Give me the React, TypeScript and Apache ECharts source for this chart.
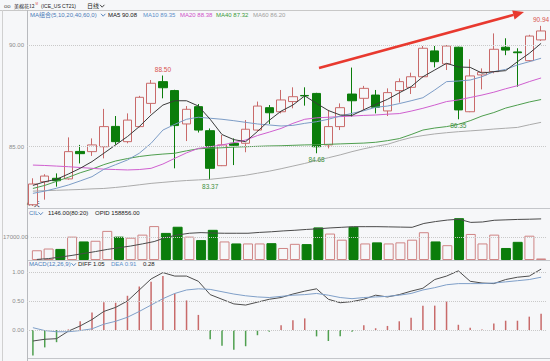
import React, { useEffect, useRef } from 'react';
import * as echarts from 'echarts';

const categories = ['D1','D2','D3','D4','D5','D6','D7','D8','D9','D10','D11','D12','D13','D14','D15','D16','D17','D18','D19','D20','D21','D22','D23','D24','D25','D26','D27','D28','D29','D30','D31','D32','D33','D34','D35','D36','D37','D38','D39','D40','D41','D42','D43','D44'];

const opens = [82.15,83.28,83.45,83.42,84.77,84.76,85.00,86.00,85.25,85.99,87.13,88.20,87.76,86.12,86.97,85.79,84.07,85.17,85.17,85.82,86.92,86.72,87.22,87.52,87.62,85.09,85.99,87.59,87.38,87.54,86.76,87.76,87.92,88.44,89.71,89.07,89.89,86.72,88.53,88.69,89.89,89.66,89.23,90.25];
const closes = [83.17,83.56,83.33,84.76,84.66,85.09,85.99,85.25,86.31,87.43,88.12,87.90,86.04,86.84,85.82,83.94,85.09,85.07,85.86,87.00,86.67,87.30,87.46,87.50,85.00,85.99,86.92,87.26,87.87,86.94,87.66,88.20,88.44,89.84,89.18,89.95,86.81,88.48,88.66,89.79,89.75,89.62,90.44,90.69];
const lows = [82.10,82.40,83.04,83.38,84.18,84.55,84.43,85.10,85.17,85.95,86.64,87.38,83.94,85.28,85.70,83.37,84.05,84.10,84.73,85.75,86.12,86.64,86.89,87.02,84.68,84.92,85.82,86.48,86.81,86.64,86.51,87.17,87.59,88.40,88.90,88.77,86.35,86.70,87.82,88.61,89.50,87.95,89.18,90.20];
const highs = [83.45,83.65,83.69,85.46,85.09,85.41,86.86,86.51,86.64,87.50,88.28,88.50,87.80,87.00,87.10,85.90,85.58,85.41,86.31,87.22,87.05,87.79,87.92,87.92,87.65,86.81,87.13,88.89,87.99,87.79,87.87,88.36,88.64,89.95,89.95,90.00,89.92,89.30,88.85,90.57,90.33,89.84,90.50,90.94];

const ma5 = [83.10,83.28,83.40,83.66,83.94,84.27,84.68,85.09,85.50,85.99,86.56,87.05,87.26,87.26,87.00,86.35,85.60,85.35,85.25,85.75,86.30,86.75,87.05,87.50,87.13,86.78,86.56,86.54,86.82,87.08,87.33,87.65,87.95,88.44,88.77,89.10,88.92,88.90,88.62,88.69,88.74,89.18,89.59,90.08];
const ma10 = [82.71,82.82,82.96,83.12,83.32,83.53,83.89,84.12,84.35,84.68,85.17,85.82,86.10,86.35,86.45,86.40,86.35,86.28,86.20,86.12,86.07,86.02,86.05,86.15,86.23,86.35,86.51,86.64,86.77,86.94,87.00,87.12,87.26,87.41,87.79,88.20,88.23,88.28,88.44,88.69,88.80,89.02,89.18,89.35];
const ma20 = [84.10,84.08,84.05,84.02,83.98,83.94,83.90,83.88,83.86,83.88,83.94,84.15,84.43,84.70,84.92,85.00,85.09,85.20,85.33,85.55,85.72,85.90,86.15,86.35,86.42,86.45,86.48,86.51,86.54,86.56,86.60,86.63,86.75,86.89,87.05,87.22,87.30,87.42,87.54,87.68,87.85,88.00,88.20,88.38];
const ma40 = [82.95,83.10,83.30,83.50,83.72,83.90,84.12,84.30,84.42,84.52,84.59,84.64,84.68,84.80,84.90,84.93,84.95,84.98,85.00,85.02,85.04,85.05,85.07,85.09,85.10,85.12,85.14,85.16,85.18,85.22,85.30,85.40,85.60,85.82,85.92,85.99,86.10,86.28,86.51,86.68,86.90,87.05,87.20,87.32];
const ma60 = [82.82,82.84,82.86,82.88,82.90,82.93,82.95,83.00,83.06,83.13,83.20,83.25,83.30,83.34,83.37,83.40,83.46,83.53,83.60,83.70,83.80,83.92,84.05,84.18,84.32,84.46,84.60,84.76,84.90,85.02,85.12,85.30,85.45,85.55,85.63,85.69,85.74,85.78,85.82,85.87,85.91,85.95,86.08,86.20];

const volumes = [7300,8600,8300,17500,13900,14400,21800,17500,16700,19000,25400,20300,24900,17500,14900,22600,13900,12400,12400,12400,12600,9000,12100,11900,24400,19800,15200,24900,12400,13200,12400,13200,15200,20800,13900,11100,31300,19500,12400,19000,9000,13600,18200,1146];
const opid = [139800,140200,140900,141700,142600,143500,144500,145300,146100,147100,148200,150100,151300,152100,152400,152200,152100,152100,152100,152500,152800,153200,153500,153900,154200,154600,154900,155200,155200,155200,155100,155000,154900,156700,157600,158300,158700,157200,157400,158200,158400,158600,158700,158856];

const macdHist = [-0.44,-0.30,-0.21,0.01,0.15,0.30,0.48,0.47,0.59,0.75,0.83,0.93,0.63,0.51,0.26,-0.16,-0.27,-0.34,-0.28,-0.09,-0.03,0.08,0.17,0.20,-0.11,-0.19,-0.11,-0.03,0.08,0.03,0.07,0.15,0.21,0.42,0.42,0.49,0.09,0.04,0.01,0.11,0.16,0.16,0.23,0.28];
const diff = [-0.19,-0.16,-0.15,-0.02,0.07,0.18,0.32,0.39,0.50,0.69,0.88,0.99,0.93,0.93,0.84,0.61,0.53,0.45,0.43,0.48,0.53,0.56,0.62,0.67,0.71,0.53,0.47,0.49,0.53,0.60,0.57,0.61,0.67,0.72,0.87,0.93,1.02,0.84,0.81,0.80,0.87,0.91,0.93,1.05];
const dea = [0.04,-0.01,-0.03,-0.03,-0.01,0.02,0.10,0.15,0.22,0.32,0.43,0.54,0.63,0.69,0.71,0.70,0.66,0.62,0.59,0.57,0.56,0.58,0.60,0.61,0.63,0.60,0.56,0.54,0.56,0.57,0.58,0.60,0.63,0.69,0.73,0.78,0.80,0.80,0.80,0.81,0.83,0.85,0.87,0.91];

const priceTicks = [85, 90];
const volumeTicks = [17000];
const macdTicks = [0, 0.5, 1];
const highMarks = [11, 43];
const lowMarks = [15, 24, 36];

const BG = '#f6f7f9';
const UP = '#c96a6a';
const DOWN = '#0b7d0b';
const FONT = '"Liberation Sans", "Noto Sans CJK SC", sans-serif';
const CJK = '"Noto Sans CJK SC", "Liberation Sans", sans-serif';

function txt(x: number, y: number, text: string, fill: string, size = 6, family = FONT, weight = 'normal') {
  return { type: 'text', x, y, silent: true, style: { text, fill, font: `${weight} ${size}px ${family}`, verticalAlign: 'middle', align: 'left' } };
}
function chevron(x: number, y: number, color: string) {
  return { type: 'polyline', silent: true, shape: { points: [[x, y - 1.2], [x + 2.2, y + 1.2], [x + 4.4, y - 1.2]] }, style: { stroke: color, lineWidth: 0.9, fill: 'none' } };
}
function hline(y: number, x1: number, x2: number, color = '#c4c6ca') {
  return { type: 'line', silent: true, shape: { x1, y1: y, x2, y2: y }, style: { stroke: color, lineWidth: 1 } };
}

const dotted = { type: 'dotted', color: '#c9c9c9', width: 1 };

export default function App() {
  const ref = useRef<HTMLDivElement>(null);
  useEffect(() => {
    if (!ref.current) return;
    const chart = echarts.init(ref.current, undefined, { renderer: 'svg' });
    const candleData = categories.map((_, i) => [opens[i], closes[i], lows[i], highs[i]]);
    const volData = volumes.map((v, i) => {
      const up = closes[i] >= opens[i];
      return { value: v, itemStyle: up ? { color: BG, borderColor: '#cf8585', borderWidth: 1 } : { color: DOWN, borderColor: DOWN, borderWidth: 1 } };
    });
    const histData = macdHist.map((v) => ({ value: v, itemStyle: { color: v >= 0 ? '#c86a6a' : '#4f9f4f' } }));
    const xAx = (g: number) => ({ type: 'category', gridIndex: g, data: categories, boundaryGap: true, axisLine: { show: false }, axisTick: { show: false }, axisLabel: { show: false }, splitLine: { show: false } });
    const lbl = (vals: number[]) => ({ customValues: vals, formatter: (v: number) => Number(v).toFixed(2), fontSize: 6, color: '#8c8c8c', margin: 3, fontFamily: FONT });
    const yBase = { axisLine: { show: false }, axisTick: { show: false }, splitLine: { show: false } };
    const maLine = (name: string, data: number[], color: string) => ({ name, type: 'line', xAxisIndex: 0, yAxisIndex: 0, data, symbol: 'none', smooth: false, lineStyle: { color, width: 1 }, silent: true, z: 3 });

    const markPts: any[] = [];
    highMarks.forEach((i) => markPts.push({ coord: [categories[i], highs[i]], value: highs[i], label: { position: 'top', distance: 3, color: '#d9534f' } }));
    lowMarks.forEach((i) => markPts.push({ coord: [categories[i], lows[i]], value: lows[i], label: { position: 'bottom', distance: 3, color: '#3f8f3f' } }));

    const option: any = {
      animation: false,
      backgroundColor: BG,
      grid: [
        { left: 27, right: 3, top: 10, height: 198 },
        { left: 27, right: 3, top: 208, height: 52 },
        { left: 27, right: 3, top: 260, height: 98.7 },
      ],
      xAxis: [xAx(0), xAx(1), xAx(2)],
      yAxis: [
        { type: 'value', gridIndex: 0, min: 81.99, max: 91.72, ...yBase, axisLabel: lbl(priceTicks) },
        { type: 'value', gridIndex: 1, min: 0, max: 38940, ...yBase, axisLabel: lbl(volumeTicks) },
        { type: 'value', gridIndex: 1, min: 139530, max: 163970, show: false },
        { type: 'value', gridIndex: 2, min: -0.495, max: 1.207, ...yBase, axisLabel: lbl(macdTicks) },
      ],
      series: [
        {
          type: 'candlestick', xAxisIndex: 0, yAxisIndex: 0, data: candleData, barWidth: 9,
          itemStyle: { color: BG, color0: DOWN, borderColor: UP, borderColor0: DOWN, borderWidth: 1 },
          markLine: { silent: true, symbol: 'none', label: { show: false }, lineStyle: dotted, data: priceTicks.map((v) => ({ yAxis: v })) },
          markPoint: { symbol: 'circle', symbolSize: 0, silent: true, label: { show: true, fontSize: 6.5, fontFamily: FONT, formatter: (p: any) => Number(p.value).toFixed(2) }, data: markPts },
          z: 2,
        },
        maLine('MA60', ma60, '#ababab'),
        maLine('MA40', ma40, '#4e9e4e'),
        maLine('MA20', ma20, '#cf5fcf'),
        maLine('MA10', ma10, '#7c9cc6'),
        maLine('MA5', ma5, '#3a3a3a'),
        {
          type: 'bar', xAxisIndex: 1, yAxisIndex: 1, data: volData, barWidth: 10, silent: true,
          markLine: { silent: true, symbol: 'none', label: { show: false }, lineStyle: dotted, data: volumeTicks.map((v) => ({ yAxis: v })) },
        },
        { type: 'line', xAxisIndex: 1, yAxisIndex: 2, data: opid, symbol: 'none', lineStyle: { color: '#4a4a4a', width: 1 }, silent: true, z: 4 },
        {
          type: 'bar', xAxisIndex: 2, yAxisIndex: 3, data: histData, barWidth: 1.5, silent: true,
          markLine: { silent: true, symbol: 'none', label: { show: false }, lineStyle: dotted, data: macdTicks.map((v) => ({ yAxis: v })) },
        },
        { type: 'line', xAxisIndex: 2, yAxisIndex: 3, data: diff, symbol: 'none', lineStyle: { color: '#4d4d4d', width: 1 }, silent: true, z: 4 },
        { type: 'line', xAxisIndex: 2, yAxisIndex: 3, data: dea, symbol: 'none', lineStyle: { color: '#7f9fc8', width: 1 }, silent: true, z: 4 },
      ],
      graphic: [
        hline(10.5, 0, 550, '#c8c8c8'),
        hline(208.5, 27, 550),
        hline(260.5, 27, 550),
        hline(358.5, 27, 550),
        { type: 'line', silent: true, shape: { x1: 27.5, y1: 10, x2: 27.5, y2: 361 }, style: { stroke: '#b8babe', lineWidth: 1 } },
        { type: 'line', silent: true, shape: { x1: 2.5, y1: 10, x2: 2.5, y2: 361 }, style: { stroke: '#d0d0d0', lineWidth: 1 } },
        txt(4, 5.5, 'oo', '#555', 6),
        txt(14, 5.5, '美棉花12', '#222', 5, CJK),
        txt(35.5, 3.2, 'M', '#d9534f', 3),
        txt(41, 5.5, '(ICE_US CT21)', '#222', 5),
        txt(87, 5.5, '日线', '#222', 6, CJK),
        chevron(100, 6, '#333'),
        txt(30, 14.7, 'MA组合(5,10,20,40,60,0)', '#4a7ab8', 6, FONT),
        chevron(101, 15, '#4a7ab8'),
        txt(108, 14.7, 'MA5 90.08', '#111', 6),
        txt(143, 14.7, 'MA10 89.35', '#5b8fc9', 6),
        txt(180, 14.7, 'MA20 88.38', '#d050c8', 6),
        txt(216, 14.7, 'MA40 87.32', '#3a9a3a', 6),
        txt(253, 14.7, 'MA60 86.20', '#a0a0a0', 6),
        txt(27, 203.5, '44天', '#334', 6, CJK),
        txt(29, 213, 'CIL', '#4a7ab8', 6),
        chevron(38.5, 213.5, '#4a7ab8'),
        txt(48, 213, '1146.00(80:20)', '#222', 6),
        txt(95, 213, 'OPID 158856.00', '#222', 6),
        txt(29, 264, 'MACD(12,26,9)', '#4a7ab8', 6),
        chevron(71.5, 264.5, '#4a7ab8'),
        txt(78, 264, 'DIFF 1.05', '#222', 6),
        txt(111, 264, 'DEA 0.91', '#5b8fc9', 6),
        txt(143, 264, '0.28', '#222', 6),
        { type: 'line', silent: true, z: 10, shape: { x1: 319, y1: 68, x2: 513.5, y2: 14.9 }, style: { stroke: '#e8392f', lineWidth: 2.5 } },
        { type: 'polygon', silent: true, z: 10, shape: { points: [[524, 12], [514.6, 19.4], [512.2, 10.4]] }, style: { fill: '#e8392f' } },
      ],
    };
    chart.setOption(option);
    return () => chart.dispose();
  }, []);
  return <div ref={ref} style={{ position: 'fixed', left: 0, top: 0, width: 550, height: 361 }} />;
}
